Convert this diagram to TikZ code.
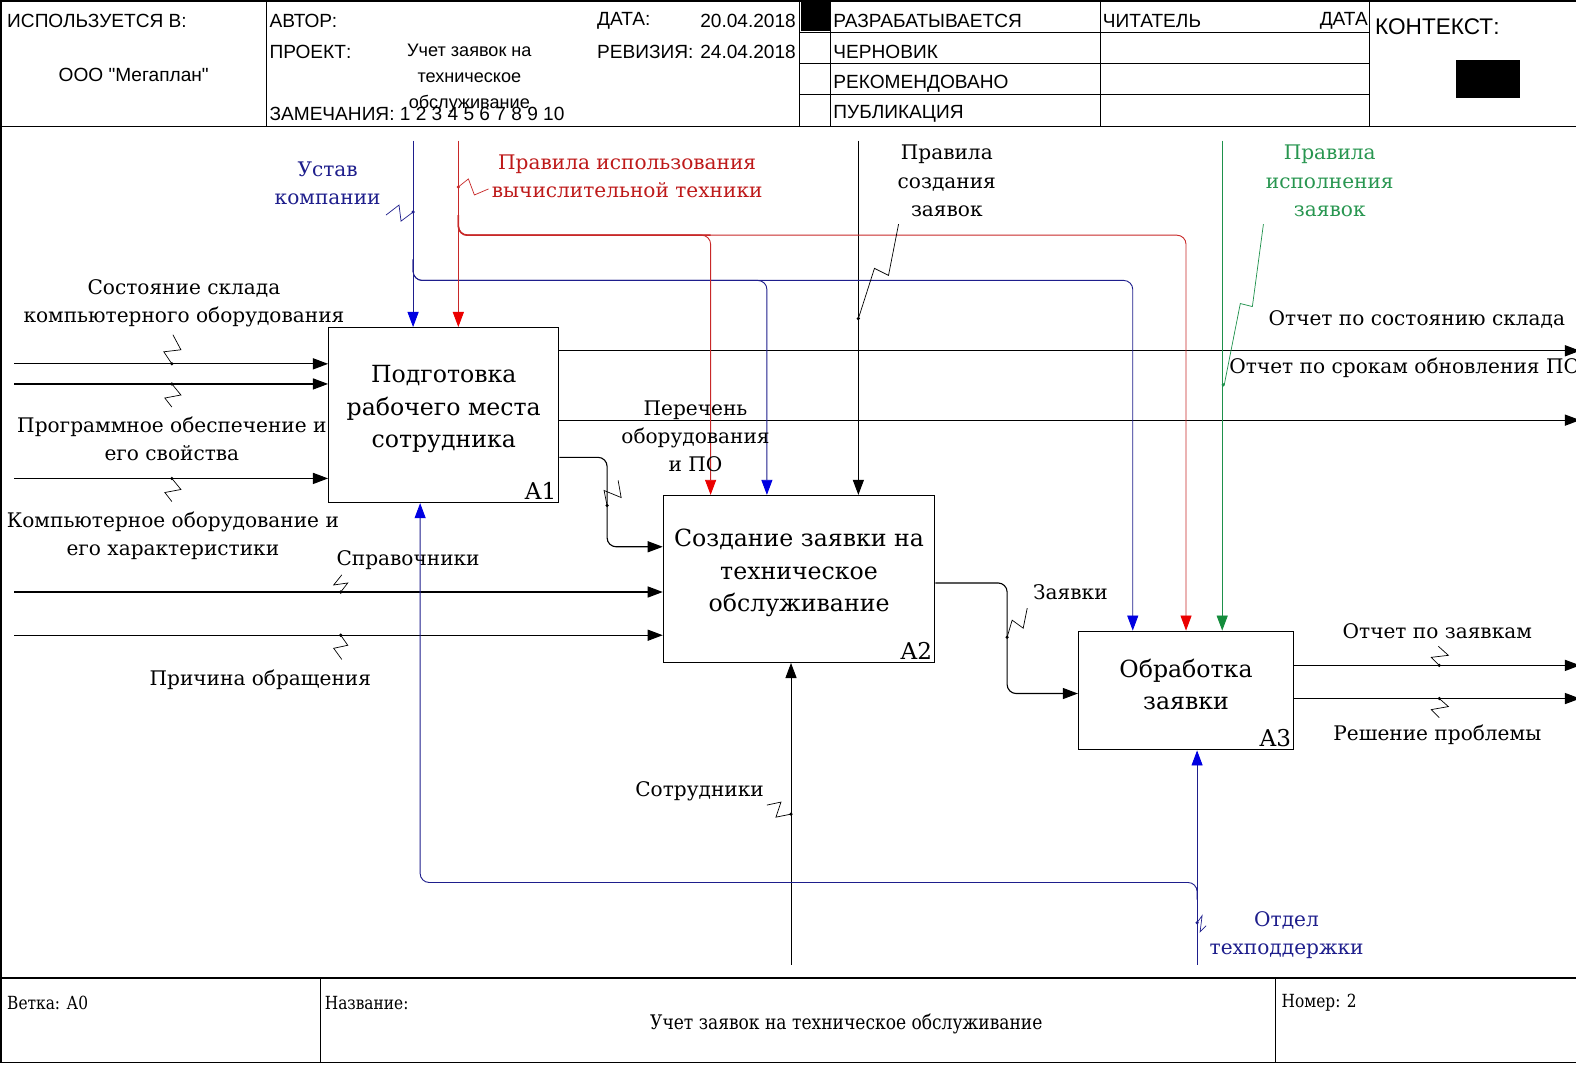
\documentclass[tikz,border=0pt]{standalone}
\usepackage{fontspec}
\setmainfont{DejaVu Serif}
\newfontfamily\hdrfont{Liberation Sans}
\usetikzlibrary{arrows.meta,calc}
\definecolor{nv}{RGB}{30,30,140}
\definecolor{bl}{RGB}{0,0,225}
\definecolor{rl}{RGB}{200,40,40}
\definecolor{rr}{RGB}{235,0,0}
\definecolor{gl}{RGB}{30,145,75}
\definecolor{gg}{RGB}{20,140,60}
\definecolor{rt}{RGB}{190,25,25}
\definecolor{gt}{RGB}{40,150,80}
\tikzset{
  frm/.style={line width=1.3pt},
  hdr/.style={font=\hdrfont\fontsize{19}{22}\selectfont, inner sep=0pt},
  boxa/.style={draw, line width=1.2pt, minimum width=#1, inner sep=0pt},
  boxtext/.style={font=\fontsize{23.5}{32}\selectfont, align=center, inner sep=0pt},
  numtext/.style={font=\fontsize{23}{28}\selectfont, anchor=south east, inner sep=3pt},
  lab/.style={font=\fontsize{20}{28}\selectfont, align=center, inner sep=0pt},
  ftr/.style={font=\fontsize{18}{22}\selectfont, inner sep=0pt},
  tipk/.style={-{Triangle[length=15pt,width=11pt]}},
  arr/.style={line width=1.1pt, tipk},
  nvarr/.style={line width=0.9pt, draw=nv, -{Triangle[length=15pt,width=11pt,color=bl]}},
  rlarr/.style={line width=0.9pt, draw=rl, -{Triangle[length=15pt,width=11pt,color=rr]}},
  glarr/.style={line width=0.9pt, draw=gl, -{Triangle[length=15pt,width=11pt,color=gg]}},
  sq/.style={line width=0.7pt},
  dot/.style={circle, fill, inner sep=0pt, minimum size=3.5pt}
}
\begin{document}
\begin{tikzpicture}[x=1pt,y=-1pt]
\useasboundingbox (0,0) rectangle (1568,1059);
\fill[white] (0,0) rectangle (1568,1059);
% ---------- frame ----------
\draw[frm] (1572,1) -- (1,1) -- (1,1057) -- (1572,1057);
\draw[frm] (1,126) -- (1572,126);
\draw[frm] (1,973) -- (1572,973);
\foreach \xx in {265,795,826,1095,1363} \draw[line width=1pt] (\xx,1) -- (\xx,126);
\foreach \yy in {32,63,94} \draw[line width=1pt] (795,\yy) -- (1363,\yy);
\fill (797,2) rectangle (826,31);
\fill (1449,60) rectangle (1512,98);
% header texts
\node[hdr, anchor=west] (h1) at (7,21) {ИСПОЛЬЗУЕТСЯ В:};
\node[hdr] (h2) at (133,75) {ООО "Мегаплан"};
\node[hdr, anchor=west] (h3) at (268,21) {АВТОР:};
\node[hdr, anchor=west] (h4) at (268,52) {ПРОЕКТ:};
\node[hdr, align=center, font=\hdrfont\fontsize{18}{26}\selectfont] (h5) at (467,78) {Учет заявок на\\техническое\\обслуживание};
\node[hdr, anchor=west] (h6) at (268,113) {ЗАМЕЧАНИЯ: 1 2 3 4 5 6 7 8 9 10};
\node[hdr, anchor=west] (h7) at (594,21) {ДАТА:};
\node[hdr, anchor=east] (h8) at (792,21) {20.04.2018};
\node[hdr, anchor=west] (h9) at (594,52) {РЕВИЗИЯ:};
\node[hdr, anchor=east] (h10) at (792,52) {24.04.2018};
\node[hdr, anchor=west] (h11) at (829,21) {РАЗРАБАТЫВАЕТСЯ};
\node[hdr, anchor=west] (h12) at (829,52) {ЧЕРНОВИК};
\node[hdr, anchor=west] (h13) at (829,83) {РЕКОМЕНДОВАНО};
\node[hdr, anchor=west] (h14) at (829,113) {ПУБЛИКАЦИЯ};
\node[hdr, anchor=west] (h15) at (1097,21) {ЧИТАТЕЛЬ};
\node[hdr, anchor=east] (h16) at (1361,21) {ДАТА};
\node[hdr, anchor=west, font=\hdrfont\fontsize{22.5}{24}\selectfont] (h17) at (1368,27) {КОНТЕКСТ:};
% footer
\draw[line width=1pt] (319,973) -- (319,1057);
\draw[line width=1pt] (1269,973) -- (1269,1057);
\node[ftr, anchor=west] (f1) at (7,998) {\scalebox{0.85}[1]{Ветка: А0}};
\node[ftr, anchor=west] (f2) at (323,998) {\scalebox{0.85}[1]{Название:}};
\node[ftr, font=\fontsize{20}{22}\selectfont] (f3) at (842,1019) {\scalebox{0.85}[1]{Учет заявок на техническое обслуживание}};
\node[ftr, anchor=west] (f4) at (1275,998) {\scalebox{0.85}[1]{Номер: 2}};
% ---------- boxes ----------
\node[boxa=229pt, minimum height=174pt] (A1) at (441.5,413) {};
\node[boxa=270pt, minimum height=166pt] (A2) at (795,576) {};
\node[boxa=214pt, minimum height=118pt] (A3) at (1180,687) {};
\node[boxtext] (A1t) at ($(A1.center)+(0,-6)$) {Подготовка\\рабочего места\\сотрудника};
\node[boxtext] (A2t) at ($(A2.center)+(0,-6)$) {Создание заявки на\\техническое\\обслуживание};
\node[boxtext] (A3t) at ($(A3.center)+(0,-6)$) {Обработка\\заявки};
\node[numtext] (A1n) at (A1.south east) {A1};
\node[numtext] (A2n) at (A2.south east) {A2};
\node[numtext] (A3n) at (A3.south east) {A3};
% ---------- coordinates ----------
\coordinate (i1) at (14,362);
\coordinate (i2) at (14,382);
\coordinate (i3) at (14,476);
\coordinate (i4) at (14,589);
\coordinate (i5) at (14,632);
\coordinate (o1) at (1572,349);
\coordinate (o2) at (1572,418);
\coordinate (o3) at (1572,662);
\coordinate (o4) at (1572,695);
\coordinate (cU) at (411,140);
\coordinate (cR) at (456,140);
\coordinate (cK) at (854,140);
\coordinate (cG) at (1216,140);
\coordinate (bU) at (411,258);
\coordinate (bR) at (456,214);
\coordinate (jU2) at (763,279);
\coordinate (jU3) at (1127,279);
\coordinate (jR2) at (707,234);
\coordinate (jR3) at (1180,234);
\coordinate (mS) at (787,960);
\coordinate (mO) at (1191,960);
\coordinate (bM) at (1191,895);
\coordinate (jM) at (418,878);
\coordinate (pA) at (604,544);
\coordinate (pB) at (1002,690);
\coordinate (yA1) at (0,455);
\coordinate (yA2) at (0,580);
\coordinate (yo1) at (0,349);
\coordinate (yo2) at (0,418);
\coordinate (yo3) at (0,662);
\coordinate (yo4) at (0,695);
% ---------- connectors ----------
\draw[arr] (i1) -- (i1 -| A1.west);
\draw[arr] (i2) -- (i2 -| A1.west);
\draw[arr] (i3) -- (i3 -| A1.west);
\draw[arr] (i4) -- (i4 -| A2.west);
\draw[arr] (i5) -- (i5 -| A2.west);
\draw[arr] (A1.east |- yo1) -- (o1);
\draw[arr] (A1.east |- yo2) -- (o2);
\draw[arr] (A3.east |- yo3) -- (o3);
\draw[arr] (A3.east |- yo4) -- (o4);
\draw[arr, rounded corners=9pt] (A1.east |- yA1) -| (pA) -- (pA -| A2.west);
\draw[arr, rounded corners=9pt] (A2.east |- yA2) -| (pB) -- (pB -| A3.west);
\draw[arr] (cK) -- (cK |- A2.north);
\draw[arr, line width=0.9pt] (mS) -- (mS |- A2.south);
% blue controls
\draw[nvarr] (cU) -- (cU |- A1.north);
\draw[nvarr, rounded corners=9pt] (bU) |- (jU2) -- (jU2 |- A2.north);
\draw[nvarr, rounded corners=9pt] (bU) |- (jU3) -- (jU3 |- A3.north);
% red controls
\draw[rlarr] (cR) -- (cR |- A1.north);
\draw[line width=1.6pt, draw=rl, rounded corners=9pt] (bR) |- (jR2);
\draw[rlarr, rounded corners=9pt] (bR) |- (jR2) -- (jR2 |- A2.north);
\draw[rlarr, rounded corners=9pt] (bR) |- (jR3) -- (jR3 |- A3.north);
% green control
\draw[glarr] (cG) -- (cG |- A3.north);
% mechanisms
\draw[nvarr] (mO) -- (mO |- A3.south);
\draw[nvarr, rounded corners=9pt] (bM) |- (jM) -- (jM |- A1.south);
% ---------- labels ----------
\node[lab] (L1) at (183,302) {Состояние склада\\компьютерного оборудования};
\node[lab] (L2) at (171,437) {Программное обеспечение и\\его свойства};
\node[lab] (L3) at (172,533) {Компьютерное оборудование и\\его характеристики};
\node[lab] (L4) at (406,557) {Справочники};
\node[lab] (L5) at (259,676) {Причина обращения};
\node[lab, text=nv] (L6) at (326,182) {Устав\\компании};
\node[lab, text=rt] (L7) at (624,175) {Правила использования\\вычислительной техники};
\node[lab] (L8) at (942,180) {Правила\\создания\\заявок};
\node[lab, text=gt] (L9) at (1323,180) {Правила\\исполнения\\заявок};
\node[lab] (L10) at (692,434) {Перечень\\оборудования\\и ПО};
\node[lab] (L11) at (1065,589) {Заявки};
\node[lab] (L12) at (1430,628) {Отчет по заявкам};
\node[lab] (L13) at (1430,731) {Решение проблемы};
\node[lab] (L14) at (696,787) {Сотрудники};
\node[lab, text=nv] (L15) at (1280,930) {Отдел\\техподдержки};
\node[lab, anchor=west] (L16) at (1262,318) {Отчет по состоянию склада};
\node[lab, anchor=west] (L17) at (1223,366) {Отчет по срокам обновления ПО};
% ---------- squiggles ----------
\draw[sq] (171,362) -- (163,350) -- (180,348) -- (172,333);
\node[dot] at (171,362) {};
\draw[sq] (171,382) -- (180,393) -- (164,396) -- (171,405);
\node[dot] at (171,382) {};
\draw[sq] (171,476) -- (180,487) -- (164,490) -- (171,499);
\node[dot] at (171,476) {};
\draw[sq] (339,589) -- (346,580) -- (332,582) -- (340,572);
\node[dot] at (339,589) {};
\draw[sq] (339,632) -- (346,642) -- (332,645) -- (340,656);
\node[dot] at (339,632) {};
\draw[sq] (604,503) -- (601,488) -- (618,495) -- (615,478);
\node[dot] at (604,503) {};
\draw[sq] (1002,634) -- (1007,617) -- (1018,625) -- (1022,605);
\node[dot] at (1002,634) {};
\draw[sq] (894,223) -- (884,274) -- (870,267) -- (854,317);
\node[dot] at (854,317) {};
\draw[sq, draw=gl] (1257,223) -- (1246,305) -- (1234,302) -- (1218,383);
\node[dot, fill=gl] at (1217,383) {};
\draw[sq, draw=rl] (456,186) -- (466,178) -- (472,194) -- (486,188);
\node[dot, fill=rl] at (456,186) {};
\draw[sq, draw=nv] (384,214) -- (397,204) -- (399,220) -- (411,211);
\node[dot, fill=nv] at (411,211) {};
\draw[sq] (763,801) -- (777,798) -- (772,813) -- (787,810);
\node[dot] at (787,810) {};
\draw[sq, draw=nv] (1191,918) -- (1196,911) -- (1194,927) -- (1200,921);
\node[dot, fill=nv] at (1191,918) {};
\draw[sq] (1432,662) -- (1424,654) -- (1441,652) -- (1431,643);
\node[dot] at (1432,662) {};
\draw[sq] (1432,695) -- (1441,703) -- (1424,706) -- (1432,714);
\node[dot] at (1432,695) {};
\end{tikzpicture}
\end{document}
